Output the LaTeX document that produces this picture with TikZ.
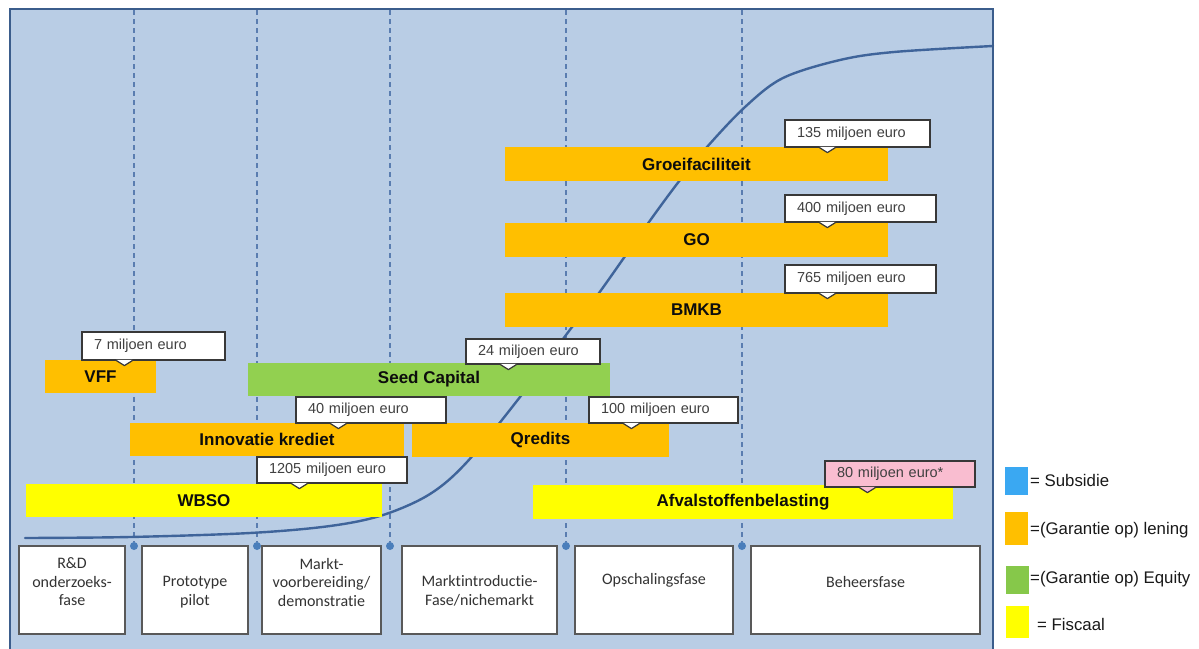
\documentclass[tikz,border=0pt]{standalone}
\usepackage{fontspec}
\setmainfont{Liberation Sans}
\newfontfamily\calfont[Ligatures=NoCommon]{Carlito}
\definecolor{bgblue}{HTML}{B9CDE5}
\definecolor{framecol}{HTML}{3B5D8C}
\definecolor{dashcol}{HTML}{5A7DB0}
\definecolor{curvecol}{HTML}{3F649A}
\definecolor{dotcol}{HTML}{4A7EBB}
\definecolor{barorange}{HTML}{FFBF00}
\definecolor{bargreen}{HTML}{92D050}
\definecolor{baryellow}{HTML}{FFFF00}
\definecolor{calpink}{HTML}{F9BDD0}
\definecolor{legblue}{HTML}{3AA8F2}
\definecolor{leggreen}{HTML}{86C84A}
\definecolor{txtgray}{HTML}{404040}
\begin{document}
\begin{tikzpicture}[x=1pt,y=-1pt,
  bar/.style={fill=#1, draw=none, inner sep=0pt, minimum height=34pt,
    font=\fontsize{17}{19}\selectfont\bfseries, text=black!95},
  callout/.style={draw=black!78, line width=1.2pt, fill=white, inner xsep=12pt, inner ysep=0pt,
    minimum height=27pt, text width=#1, align=left,
    font=\fontsize{14.5}{16}\selectfont, text=txtgray},
  phasebox/.style={draw=black!65, line width=1.3pt, fill=white, inner sep=0pt, minimum height=88pt},
  phasetext/.style={align=center, font=\calfont\fontsize{16}{18.5}\selectfont, text=black!80, inner sep=0pt},
  divider/.style={dashcol, line width=1.1pt, dash pattern=on 5pt off 4pt},
  stage/.style={circle, fill=dotcol, inner sep=0pt, minimum size=8pt},
  legsq/.style={draw=none, inner sep=0pt, minimum width=23pt, minimum height=29pt, fill=#1},
  legtext/.style={anchor=west, inner sep=0pt, font=\fontsize{16.8}{18}\selectfont, text=black!90}
]
\useasboundingbox (0,0) rectangle (1199,648);
\fill[white] (0,0) rectangle (1199,648);
% background panel
\fill[bgblue] (10,9) rectangle (993,660);

% stage dots and dashed dividers
\foreach \x/\n in {134/d1,257/d2,390/d3,566/d4,742/d5}{
  \coordinate (\n top) at (\x,10);
  \node[stage] (\n) at (\x,546) {};
  \draw[divider] (\n top) -- (\n);
}

% S-curve
\draw[curvecol, line width=2.4pt, line cap=round] plot[smooth, tension=0.55] coordinates {
 (25,538) (130,537) (250,533) (330,526) (383,515) (430,494) (467,462) (520,397) (569,331)
 (599,293) (649,222) (680,180) (707,147) (745,107) (783,78) (840,60) (894,52) (993,46)};

% bars
\node[bar=barorange, minimum width=383pt] (groei) at (696.5,164) {Groeifaciliteit};
\node[bar=barorange, minimum width=383pt] (go) at (696.5,240) {GO};
\node[bar=barorange, minimum width=383pt] (bmkb) at (696.5,310) {BMKB};
\node[bar=barorange, minimum width=111pt, minimum height=33pt] (vff) at (100.5,376.5) {VFF};
\node[bar=bargreen, minimum width=362pt, minimum height=33pt] (seed) at (429,379.5) {Seed Capital};
\node[bar=barorange, minimum width=274pt, minimum height=33pt] (innov) at (267,439.5) {Innovatie krediet};
\node[bar=barorange, minimum width=257pt] (qred) at (540.5,440) {Qredits};
\node[bar=baryellow, minimum width=356pt, minimum height=33pt] (wbso) at (204,500.5) {WBSO};
\node[bar=baryellow, minimum width=420pt] (afval) at (743,502) {Afvalstoffenbelasting};

% callouts
\node[callout=121pt] (c135) at (857.5,133.5) {135 miljoen euro};
\node[callout=127pt] (c400) at (860.5,208.5) {400 miljoen euro};
\node[callout=127pt, minimum height=28pt] (c765) at (860.5,279) {765 miljoen euro};
\node[callout=119pt, minimum height=28pt] (c7) at (153.5,346) {7 miljoen euro};
\node[callout=110pt, minimum height=25pt] (c24) at (533,351.5) {24 miljoen euro};
\node[callout=126pt, minimum height=26pt] (c40) at (371,410) {40 miljoen euro};
\node[callout=125pt, minimum height=26pt] (c100) at (663.5,410) {100 miljoen euro};
\node[callout=126pt, minimum height=26pt] (c1205) at (332,470) {1205 miljoen euro};
\node[callout=126pt, minimum height=26pt, fill=calpink] (c80) at (900,474) {80 miljoen euro*};

\foreach \n/\f in {c135/white,c400/white,c765/white,c7/white,c24/white,c40/white,c100/white,c1205/white,c80/calpink}{
  \fill[\f] ([xshift=35pt,yshift=0.7pt]\n.south west) -- ([xshift=43pt,yshift=-5pt]\n.south west) -- ([xshift=51pt,yshift=0.7pt]\n.south west) -- cycle;
  \draw[black!78, line width=1.2pt, line join=round] ([xshift=35pt]\n.south west) -- ([xshift=43pt,yshift=-5pt]\n.south west) -- ([xshift=51pt]\n.south west);
}

% phase boxes
\node[phasebox, minimum width=106pt] (p1) at (72,590) {};
\node[phasebox, minimum width=106pt] (p2) at (195,590) {};
\node[phasebox, minimum width=119pt] (p3) at (321.5,590) {};
\node[phasebox, minimum width=155pt] (p4) at (479.5,590) {};
\node[phasebox, minimum width=158pt] (p5) at (654,590) {};
\node[phasebox, minimum width=229pt] (p6) at (865.5,590) {};
\node[phasetext] (t1) at (72,582) {R\&D\\onderzoeks-\\fase};
\node[phasetext] (t2) at (195,592) {Prototype\\pilot};
\node[phasetext] (t3) at (321.5,582) {Markt-\\voorbereiding/\\demonstratie};
\node[phasetext] (t4) at (479.5,591) {Marktintroductie-\\Fase/nichemarkt};
\node[phasetext] (t5) at (654,580) {Opschalingsfase};
\node[phasetext] (t6) at (865.5,582) {Beheersfase};

% frame
\draw[framecol, line width=2.4pt] (10,660) -- (10,9) -- (993,9) -- (993,660);

% legend
\node[legsq=legblue, minimum height=28pt] (l1) at (1016.5,481) {};
\node[legsq=barorange, minimum height=33pt] (l2) at (1016.5,528.5) {};
\node[legsq=leggreen, minimum height=28pt] (l3) at (1017,579.5) {};
\node[legsq=baryellow, minimum height=32pt] (l4) at (1017,622) {};
\node[legtext] (lt1) at (1030,480) {= Subsidie};
\node[legtext] (lt2) at (1030,530) {=(Garantie op) lening};
\node[legtext] (lt3) at (1030,579) {=(Garantie op) Equity};
\node[legtext] (lt4) at (1037,624) {= Fiscaal};
\end{tikzpicture}
\end{document}
